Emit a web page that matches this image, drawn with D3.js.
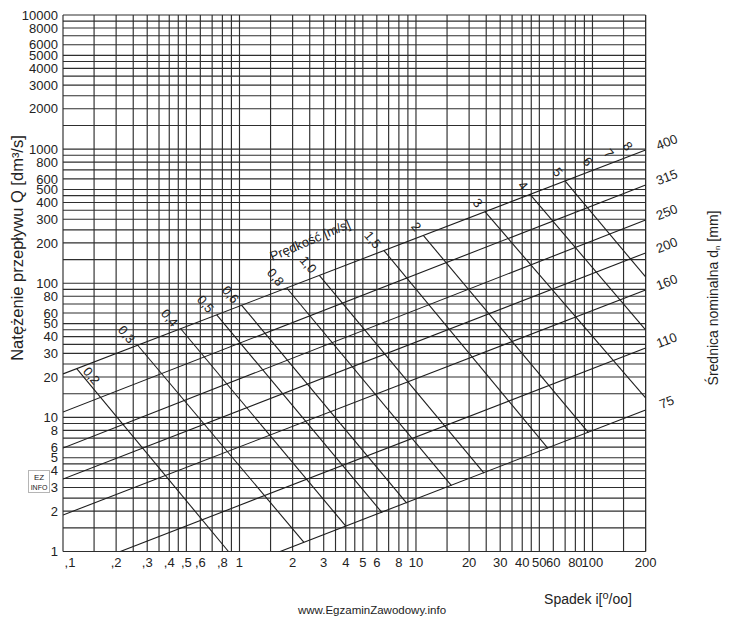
<!DOCTYPE html>
<html><head><meta charset="utf-8">
<script src="https://cdn.jsdelivr.net/npm/d3@7"></script>
<style>
body{margin:0;background:#fff}
text{font-family:"Liberation Sans",Arial,sans-serif;fill:#222}
</style>
</head><body>
<svg id="c" width="731" height="617"></svg>
<script>
// ---- data ----
const xTickValues = [0.1,0.2,0.3,0.4,0.5,0.6,0.8,1,2,3,4,5,6,8,10,20,30,40,50,60,80,100,200];
const xTickLabels = [",1",",2",",3",",4",",5",",6",",8","1","2","3","4","5","6","8","10","20","30","40","50","60","80","100","200"];
const yTickValues = [1,2,3,4,5,6,8,10,20,30,40,50,60,80,100,200,300,400,500,600,800,1000,2000,3000,4000,5000,6000,8000,10000];
const gridMantissas = [1,1.5,2,2.5,3,3.5,4,4.5,5,6,7,8,9];
const xDecades = [0.1,1,10,100];
const yDecades = [1,10,100,1000,10000];

// pipe diameter lines: flow Q at slope 0.1 and at slope 200
const diameters   = [400,315,250,200,160,110,75];
const diamQAtMinI = [21.07,10.97,5.91,3.47,1.87,0.683,0.236];
const diamQAtMaxI = [986,541,296.5,168.3,89.1,32.9,11.36];

// velocity lines (start on d=400, end on d=75 / chart edge)
const velLabels = ["0,2","0,3","0,4","0,5","0,6","0,8","1,0","1,5","2","3","4","5"];
const velStartI = [0.1196,0.265,0.4645,0.743,1.029,1.851,2.833,6.586,11.0,24.6,44.3,69.9];
const velStartQ = [23.06,34.5,45.8,58.1,68.5,92.2,114.4,175.3,227.3,341.6,459.6,579.4];
const velEndI   = [0.866,2.319,4.003,6.42,8.86,15.89,24.29,55.96,94.9,200,200,200];
const velEndQ   = [1,1.17,1.546,1.949,2.297,3.094,3.842,5.88,7.70,13.95,44.9,111.4];
// extra velocity labels without lines
const velExtraLabels = ["6","7","8"];
const velExtraI = [103.3,135.9,174.1];
const velExtraQ = [706,811,919];

// ---- chart ----
const svg = d3.select("#c");
const x = d3.scaleLog().domain([0.1,200]).range([63,645.6]);
const y = d3.scaleLog().domain([1,10000]).range([551.5,15]);

const xGrid = [];
xDecades.forEach(d => gridMantissas.forEach(m => { const v = +(m*d).toPrecision(6); if (v <= 200) xGrid.push(v); }));
xGrid.push(200);
const yGrid = [];
yDecades.forEach(d => gridMantissas.forEach(m => { const v = +(m*d).toPrecision(6); if (v <= 10000) yGrid.push(v); }));

const grid = svg.append("g").attr("stroke","#2e2e2e").attr("stroke-width",1.15);
grid.selectAll("line.v").data(xGrid).join("line").attr("class","v")
  .attr("x1",d=>x(d)).attr("x2",d=>x(d)).attr("y1",y(10000)).attr("y2",y(1));
grid.selectAll("line.h").data(yGrid).join("line").attr("class","h")
  .attr("y1",d=>y(d)).attr("y2",d=>y(d)).attr("x1",x(0.1)).attr("x2",x(200));

// clip
svg.append("clipPath").attr("id","pc").append("rect")
  .attr("x",x(0.1)).attr("y",y(10000)).attr("width",x(200)-x(0.1)).attr("height",y(1)-y(10000));

const diag = svg.append("g").attr("clip-path","url(#pc)").attr("stroke","#1e1e1e").attr("stroke-width",1.1).attr("fill","none");
diag.selectAll("line.d").data(diameters).join("line").attr("class","d")
  .attr("x1",x(0.1)).attr("y1",(d,i)=>y(diamQAtMinI[i]))
  .attr("x2",x(200)).attr("y2",(d,i)=>y(diamQAtMaxI[i]));
diag.selectAll("line.vel").data(velLabels).join("line").attr("class","vel")
  .attr("x1",(d,i)=>x(velStartI[i])).attr("y1",(d,i)=>y(velStartQ[i]))
  .attr("x2",(d,i)=>x(velEndI[i])).attr("y2",(d,i)=>y(velEndQ[i]));

// y tick labels
svg.append("g").selectAll("text").data(yTickValues).join("text")
  .attr("x",58).attr("y",d=>y(d)).attr("dy","0.36em").attr("text-anchor","end")
  .attr("font-size",13).text(d=>d);

// x tick labels
svg.append("g").selectAll("text").data(xTickValues).join("text")
  .attr("x",(d,i)=> i===0 ? x(d)+7 : x(d)).attr("y",567).attr("text-anchor","middle")
  .attr("font-size",13).text((d,i)=>xTickLabels[i]);

// diameter labels
svg.append("g").selectAll("text").data(diameters).join("text")
  .attr("transform",(d,i)=>`translate(${x(200)+21},${y(diamQAtMaxI[i])-8}) rotate(-21)`)
  .attr("text-anchor","middle").attr("dy","0.36em").attr("font-size",13).text(d=>d);

// velocity labels
svg.append("g").selectAll("text").data(velLabels).join("text")
  .attr("transform",(d,i)=>{
    const px = x(velStartI[i]), py = y(velStartQ[i]);
    let dx, dy;
    if (i===0) { dx = 15; dy = 7; }
    else if (d.length>1) { dx = -11; dy = -11; }
    else { dx = -7; dy = -9; }
    return `translate(${px+dx},${py+dy}) rotate(50)`;
  })
  .attr("text-anchor","middle").attr("dy","0.36em").attr("font-size",13).text(d=>d);
svg.append("g").selectAll("text").data(velExtraLabels).join("text")
  .attr("transform",(d,i)=>`translate(${x(velExtraI[i])-7},${y(velExtraQ[i])-8}) rotate(50)`)
  .attr("text-anchor","middle").attr("dy","0.36em").attr("font-size",13).text(d=>d);

// "Prędkość [m/s]"
svg.append("text").attr("transform","translate(310,240) rotate(-23)")
  .attr("text-anchor","middle").attr("dy","0.36em").attr("font-size",13).text("Prędkość [m/s]");

// axis titles
svg.append("text").attr("transform","translate(23,248) rotate(-90)")
  .attr("text-anchor","middle").attr("font-size",16.5).text("Natężenie przepływu Q [dm³/s]");
const rt = svg.append("text").attr("transform","translate(718,298) rotate(-90)")
  .attr("text-anchor","middle").attr("font-size",14);
rt.append("tspan").text("Średnica nominalna d");
rt.append("tspan").attr("font-size",8).attr("dy",2).text("n");
rt.append("tspan").attr("dy",-2).text(" [mm]");

const st = svg.append("text").attr("x",588).attr("y",604).attr("text-anchor","middle").attr("font-size",14);
st.append("tspan").text("Spadek i[");
st.append("tspan").attr("font-size",11).attr("dy",-5).text("o");
st.append("tspan").attr("dy",5).text("/oo]");

// watermark
svg.append("text").attr("x",372).attr("y",614).attr("text-anchor","middle")
  .attr("font-size",11.5).attr("fill","#333").text("www.EgzaminZawodowy.info");
const lg = svg.append("g");
lg.append("rect").attr("x",28.5).attr("y",470.5).attr("width",21).attr("height",22)
  .attr("fill","none").attr("stroke","#444").attr("stroke-width",0.8).attr("stroke-dasharray","1,1");
lg.append("text").attr("x",39).attr("y",480).attr("text-anchor","middle").attr("font-size",8).text("EZ");
lg.append("text").attr("x",39).attr("y",490).attr("text-anchor","middle").attr("font-size",7).text("INFO");
</script>
</body></html>
